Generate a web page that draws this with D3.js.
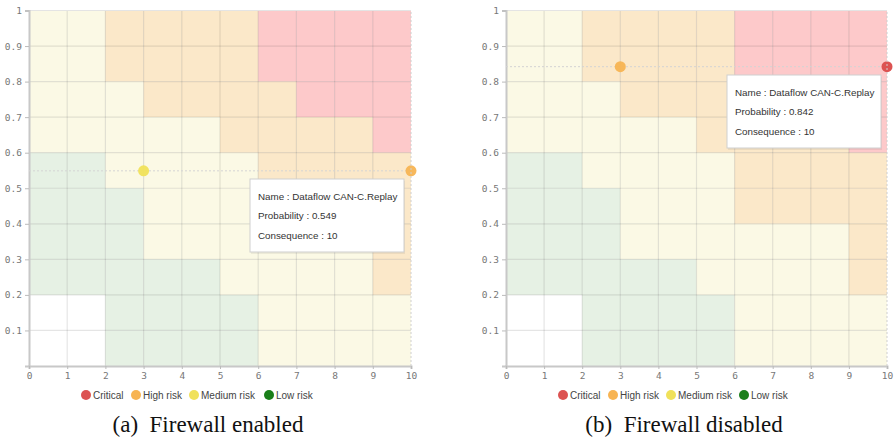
<!DOCTYPE html>
<html>
<head>
<meta charset="utf-8">
<script src="https://cdn.jsdelivr.net/npm/d3@7"></script>
<style>
  html, body { margin: 0; padding: 0; background: #fff; }
  svg { display: block; }
</style>
</head>
<body>
<svg id="chart" width="895" height="438"></svg>
<script>
// ---------- data ----------
const consequenceTicks = [0, 1, 2, 3, 4, 5, 6, 7, 8, 9, 10];
const probabilityTicks = [0.1, 0.2, 0.3, 0.4, 0.5, 0.6, 0.7, 0.8, 0.9, 1];
const riskLevels = ["Critical", "High risk", "Medium risk", "Low risk"];
const levelCodes = ["C", "H", "M", "L"];
// risk matrix background, rows from probability 0.9-1.0 (top) down to 0-0.1 (bottom),
// columns consequence 0-1 ... 9-10. N = no risk
const gridRows = [
  "MMHHHHCCCC",
  "MMHHHHCCCC",
  "MMMHHHHCCC",
  "MMMMMHHHHC",
  "LLMMMMHHHH",
  "LLLMMMHHHH",
  "LLLMMMMMMH",
  "LLLLLMMMMH",
  "NNLLLLMMMM",
  "NNLLLLMMMM"
];
const flowName = "Dataflow CAN-C.Replay";
const enabledConsequence = [3, 10];
const enabledProbability = [0.549, 0.549];
const enabledLevel = ["M", "H"];
const disabledConsequence = [3, 10];
const disabledProbability = [0.842, 0.842];
const disabledLevel = ["H", "C"];
const captions = ["(a)  Firewall enabled", "(b)  Firewall disabled"];

// ---------- styles ----------
const dotColor = { C: "#dc5352", H: "#f7b453", M: "#f0e15a", L: "#1a7f1a" };
const cellColor = { C: "#fdc9ca", H: "#fbe8c9", M: "#fbf9e5", L: "#e6f1e4", N: "#ffffff" };

const svg = d3.select("#chart");

function drawChart(cfg) {
  const x = d3.scaleLinear().domain([0, 10]).range([cfg.left, cfg.right]);
  const y = d3.scaleLinear().domain([0, 1]).range([cfg.bottom, cfg.top]);
  const g = svg.append("g");

  // cells
  const cells = [];
  gridRows.forEach((row, ri) => {
    row.split("").forEach((code, ci) => {
      cells.push({ c: ci, p: (9 - ri) / 10, code });
    });
  });
  g.selectAll("rect.cell").data(cells).join("rect")
    .attr("class", "cell")
    .attr("x", d => x(d.c))
    .attr("y", d => y(d.p + 0.1))
    .attr("width", d => x(d.c + 1) - x(d.c))
    .attr("height", d => y(d.p) - y(d.p + 0.1))
    .attr("fill", d => cellColor[d.code]);

  // grid lines
  g.selectAll("line.vg").data(consequenceTicks.slice(1, -1)).join("line")
    .attr("x1", d => x(d)).attr("x2", d => x(d))
    .attr("y1", y(0)).attr("y2", y(1))
    .attr("stroke", "rgba(0,0,0,0.1)").attr("stroke-width", 1.2);
  g.selectAll("line.hg").data(probabilityTicks.slice(0, -1)).join("line")
    .attr("x1", x(0)).attr("x2", x(10))
    .attr("y1", d => y(d)).attr("y2", d => y(d))
    .attr("stroke", "rgba(0,0,0,0.1)").attr("stroke-width", 1.2);
  // top border
  g.append("line").attr("x1", x(0)).attr("x2", x(10)).attr("y1", y(1)).attr("y2", y(1))
    .attr("stroke", "#e4e4e4").attr("stroke-width", 1);

  // axes
  const yAxis = d3.axisLeft(y).tickValues(probabilityTicks).tickSize(4).tickPadding(3)
    .tickFormat(d => d === 1 ? "1" : d3.format(".1f")(d));
  const xAxis = d3.axisBottom(x).tickValues(consequenceTicks).tickSize(3).tickPadding(3)
    .tickFormat(d3.format("d"));
  const ya = g.append("g").attr("transform", `translate(${cfg.left},0)`).call(yAxis);
  const xa = g.append("g").attr("transform", `translate(0,${cfg.bottom})`).call(xAxis);
  [ya, xa].forEach(a => {
    a.select(".domain").attr("stroke", "#c8c8c8").attr("stroke-width", 2);
    a.selectAll(".tick line").attr("stroke", "#bbb");
    a.selectAll(".tick text").attr("fill", "#777")
      .style("font-family", "'DejaVu Sans Mono', monospace").style("font-size", "9.5px");
  });

  // emphasis line at probability
  const pY = cfg.prob[0];
  g.append("line").attr("x1", x(0)).attr("x2", x(10)).attr("y1", y(pY)).attr("y2", y(pY))
    .attr("stroke", "#d4d4d4").attr("stroke-width", 1).attr("stroke-dasharray", "2,2");

  // points
  const pts = cfg.cons.map((c, i) => ({ c, p: cfg.prob[i], lv: cfg.level[i] }));
  g.selectAll("circle.pt").data(pts).join("circle")
    .attr("cx", d => x(d.c)).attr("cy", d => y(d.p)).attr("r", 5.5)
    .attr("fill", d => dotColor[d.lv]).attr("opacity", d => d.lv === "C" ? 1 : 0.95);

  // right border dashed
  g.append("line").attr("x1", x(10)).attr("x2", x(10)).attr("y1", y(0)).attr("y2", y(1))
    .attr("stroke", "#cfcfcf").attr("stroke-width", 1).attr("stroke-dasharray", "2,2");

  // tooltip
  const tt = g.append("g").attr("transform", `translate(${cfg.tipX},${cfg.tipY})`);
  tt.append("rect").attr("x", 1).attr("y", 2).attr("width", 154).attr("height", 73)
    .attr("fill", "rgba(0,0,0,0.06)");
  tt.append("rect").attr("width", 154).attr("height", 73)
    .attr("fill", "#fff").attr("stroke", "#cfcfcf").attr("stroke-width", 1);
  const lines = [
    "Name : " + flowName,
    "Probability : " + cfg.prob[1],
    "Consequence : " + cfg.cons[1]
  ];
  tt.selectAll("text").data(lines).join("text")
    .attr("x", 8).attr("y", (d, i) => 20.5 + i * 19.5)
    .attr("fill", "#333")
    .style("font-family", "'Liberation Sans', Arial, sans-serif").style("font-size", "9.8px")
    .text(d => d);

  // legend
  const lg = g.append("g");
  const items = lg.selectAll("g").data(riskLevels).join("g")
    .attr("transform", (d, i) => `translate(${cfg.legendX[i]},${cfg.legendY})`);
  items.append("circle").attr("r", 5).attr("fill", (d, i) => dotColor[levelCodes[i]]);
  items.append("text").attr("x", 7).attr("y", 3.6)
    .attr("fill", "#444")
    .style("font-family", "'Liberation Sans', Arial, sans-serif").style("font-size", "10px")
    .text(d => d);

  // caption
  g.append("text").attr("x", cfg.captionX).attr("y", 432).attr("text-anchor", "middle")
    .attr("fill", "#111")
    .style("font-family", "'Liberation Serif', 'Times New Roman', serif").style("font-size", "23px")
    .style("white-space", "pre")
    .text(cfg.caption);
}

drawChart({
  left: 29, right: 411, top: 10.5, bottom: 366,
  cons: enabledConsequence, prob: enabledProbability, level: enabledLevel,
  tipX: 250, tipY: 179,
  legendX: [86, 136, 194, 269], legendY: 395,
  captionX: 208, caption: captions[0]
});
drawChart({
  left: 506, right: 887, top: 10.5, bottom: 366,
  cons: disabledConsequence, prob: disabledProbability, level: disabledLevel,
  tipX: 727, tipY: 75,
  legendX: [563, 613, 671, 744], legendY: 395,
  captionX: 684, caption: captions[1]
});
</script>
</body>
</html>
